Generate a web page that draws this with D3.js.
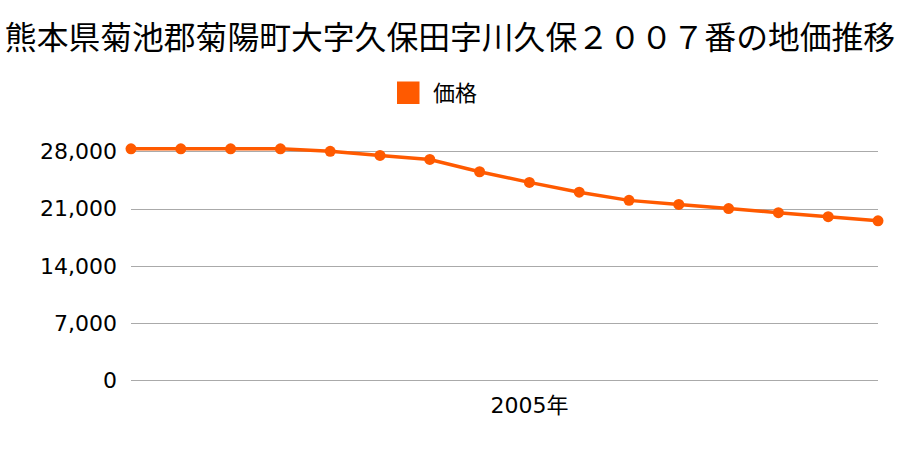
<!DOCTYPE html>
<html><head><meta charset="utf-8">
<script src="https://cdn.jsdelivr.net/npm/d3@7"></script>
<style>body{margin:0;background:#fff}svg{display:block}</style>
</head><body>
<svg id="c" width="900" height="450"></svg>
<script>
const title = "熊本県菊池郡菊陽町大字久保田字川久保２００７番の地価推移";
const seriesName = "価格";
const years = [1997,1998,1999,2000,2001,2002,2003,2004,2005,2006,2007,2008,2009,2010,2011,2012];
const prices = [28300,28300,28300,28300,28000,27500,27000,25500,24200,23000,22000,21500,21000,20500,20000,19500];
const yTicks = [0,7000,14000,21000,28000];
const xLabelYears = [2005];

const svg = d3.select("#c");
const color = "#ff5a00";
const x = d3.scalePoint().domain(years).range([131, 878]);
const y = d3.scaleLinear().domain([0, 28000]).range([380.3, 151.3]);

svg.append("text").attr("x", 450).attr("y", 49).attr("text-anchor", "middle")
  .attr("font-family", "'Noto Sans CJK JP'").attr("font-size", 31.8).attr("fill", "#000")
  .text(title);

svg.append("rect").attr("x", 397).attr("y", 81.5).attr("width", 22.5).attr("height", 22.5).attr("fill", color);
svg.append("text").attr("x", 433).attr("y", 101)
  .attr("font-family", "'Noto Sans CJK JP'").attr("font-size", 22).attr("fill", "#000")
  .text(seriesName);

// grid
svg.append("g").selectAll("line").data(yTicks).join("line")
  .attr("x1", 131).attr("x2", 878)
  .attr("y1", d => Math.round(y(d)) + 0.5).attr("y2", d => Math.round(y(d)) + 0.5)
  .attr("stroke", "#aaa").attr("stroke-width", 1);

svg.append("g").selectAll("text").data(yTicks).join("text")
  .attr("x", 117).attr("y", d => y(d)).attr("dy", "0.36em").attr("text-anchor", "end")
  .attr("font-family", "'DejaVu Sans'").attr("font-size", 22).attr("fill", "#000")
  .text(d => d3.format(",")(d));

svg.append("g").selectAll("text").data(xLabelYears).join("text")
  .attr("x", d => x(d)).attr("y", 413).attr("text-anchor", "middle")
  .attr("font-family", "'DejaVu Sans','Noto Sans CJK JP'").attr("font-size", 22).attr("fill", "#000")
  .text(d => d + "年");

const data = years.map((yr, i) => ({yr, v: prices[i]}));
svg.append("path").datum(data)
  .attr("d", d3.line().x(d => x(d.yr)).y(d => y(d.v)))
  .attr("fill", "none").attr("stroke", color).attr("stroke-width", 3.5);
svg.append("g").selectAll("circle").data(data).join("circle")
  .attr("cx", d => x(d.yr)).attr("cy", d => y(d.v)).attr("r", 5.5).attr("fill", color);
</script>
</body></html>
